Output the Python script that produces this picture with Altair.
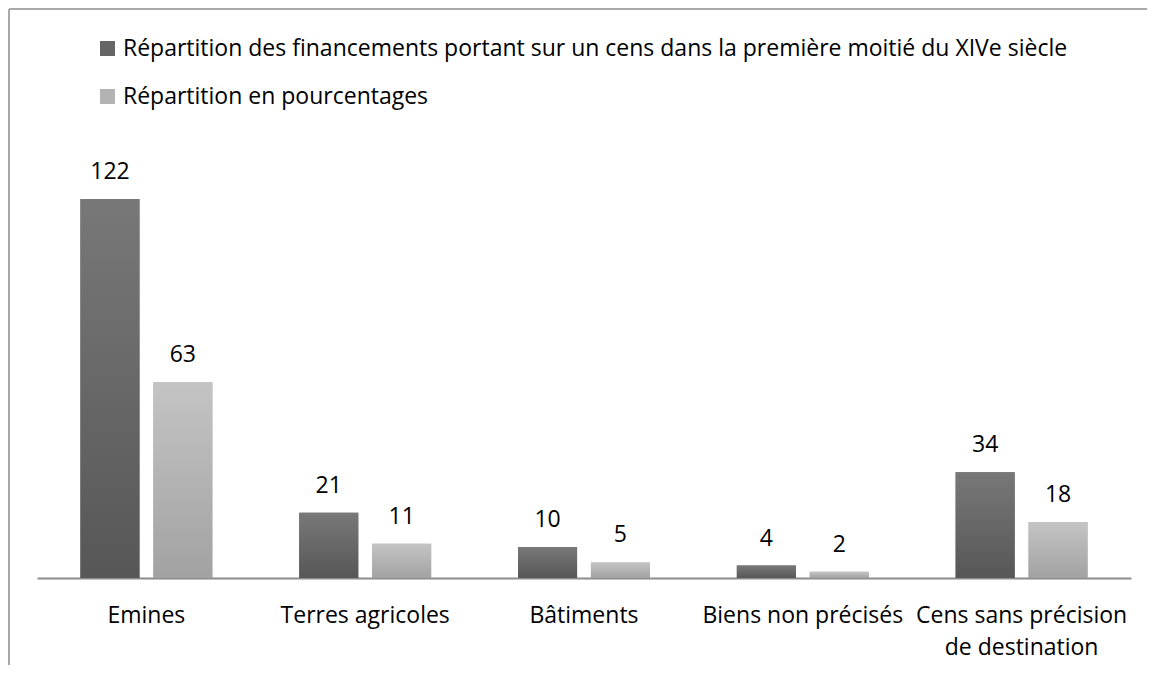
import altair as alt
import pandas as pd

categories = ["Emines", "Terres agricoles", "Bâtiments", "Biens non précisés",
              "Cens sans précision\nde destination"]
series = ["Répartition des financements portant sur un cens dans la première moitié du XIVe siècle",
          "Répartition en pourcentages"]
counts = [122, 21, 10, 4, 34]
percents = [63, 11, 5, 2, 18]

rows = []
for c, v in zip(categories, counts):
    rows.append({"cat": c, "serie": series[0], "val": v})
for c, v in zip(categories, percents):
    rows.append({"cat": c, "serie": series[1], "val": v})
df = pd.DataFrame(rows)

W, H = 1094, 435
FONT = "Open Sans"
FS = 23

x_enc = alt.X("cat:N", sort=categories, title=None,
              scale=alt.Scale(paddingInner=0.397, paddingOuter=0.1985),
              axis=alt.Axis(labelAngle=0, ticks=False, domainColor="#8c8c8c", domainWidth=2,
                            labelFontSize=FS, labelFont=FONT, labelColor="#000000",
                            labelPadding=26, labelLineHeight=32, labelLimit=400,
                            labelExpr="split(datum.label, '\\n')"))
xo_enc = alt.XOffset("serie:N", sort=series, scale=alt.Scale(paddingInner=0.19, paddingOuter=0))
y_enc = alt.Y("val:Q", scale=alt.Scale(domain=[0, 140]), axis=None)

base = alt.Chart(df)

legend_bars = base.mark_bar().encode(
    x=x_enc, xOffset=xo_enc, y=y_enc,
    color=alt.Color("serie:N", sort=series,
                    scale=alt.Scale(domain=series, range=["#656565", "#b3b3b3"]),
                    legend=alt.Legend(title=None, orient="none", legendX=59, legendY=-106,
                                      direction="vertical", symbolType="square", symbolSize=225,
                                      symbolStrokeWidth=0, labelFontSize=FS, labelFont=FONT,
                                      labelColor="#000000", labelLimit=1200, rowPadding=24,
                                      labelOffset=4)))

dark_grad = alt.Gradient(gradient="linear", x1=0, y1=0, x2=0, y2=1,
                         stops=[alt.GradientStop(color="#787878", offset=0),
                                alt.GradientStop(color="#575757", offset=1)])
light_grad = alt.Gradient(gradient="linear", x1=0, y1=0, x2=0, y2=1,
                          stops=[alt.GradientStop(color="#c4c4c4", offset=0),
                                 alt.GradientStop(color="#a2a2a2", offset=1)])

dark_bars = base.transform_filter(alt.datum.serie == series[0]).mark_bar(color=dark_grad).encode(
    x=x_enc, xOffset=xo_enc, y=y_enc)
light_bars = base.transform_filter(alt.datum.serie == series[1]).mark_bar(color=light_grad).encode(
    x=x_enc, xOffset=xo_enc, y=y_enc)

labels = base.mark_text(dy=-27, baseline="middle", fontSize=FS, font=FONT, color="#000000").encode(
    x=x_enc, xOffset=xo_enc, y=y_enc, text="val:Q")

one = alt.Chart(pd.DataFrame({"a": [0]}))
frame_top = one.mark_rule(color="#a9a9a9", strokeWidth=2).encode(
    x=alt.value(-28), x2=alt.value(1110), y=alt.value(-134))
frame_left = one.mark_rule(color="#a9a9a9", strokeWidth=2).encode(
    x=alt.value(-28), y=alt.value(-134), y2=alt.value(522))

chart = alt.layer(legend_bars, dark_bars, light_bars, labels, frame_top, frame_left).properties(
    width=W, height=H,
    background="#ffffff",
    autosize=alt.AutoSizeParams(type="none"),
    padding={"left": 29, "right": 16, "top": 135, "bottom": 87},
).configure_view(stroke=None, strokeWidth=0)

chart.save("out.html", embed_options={"renderer": "svg", "actions": False})
